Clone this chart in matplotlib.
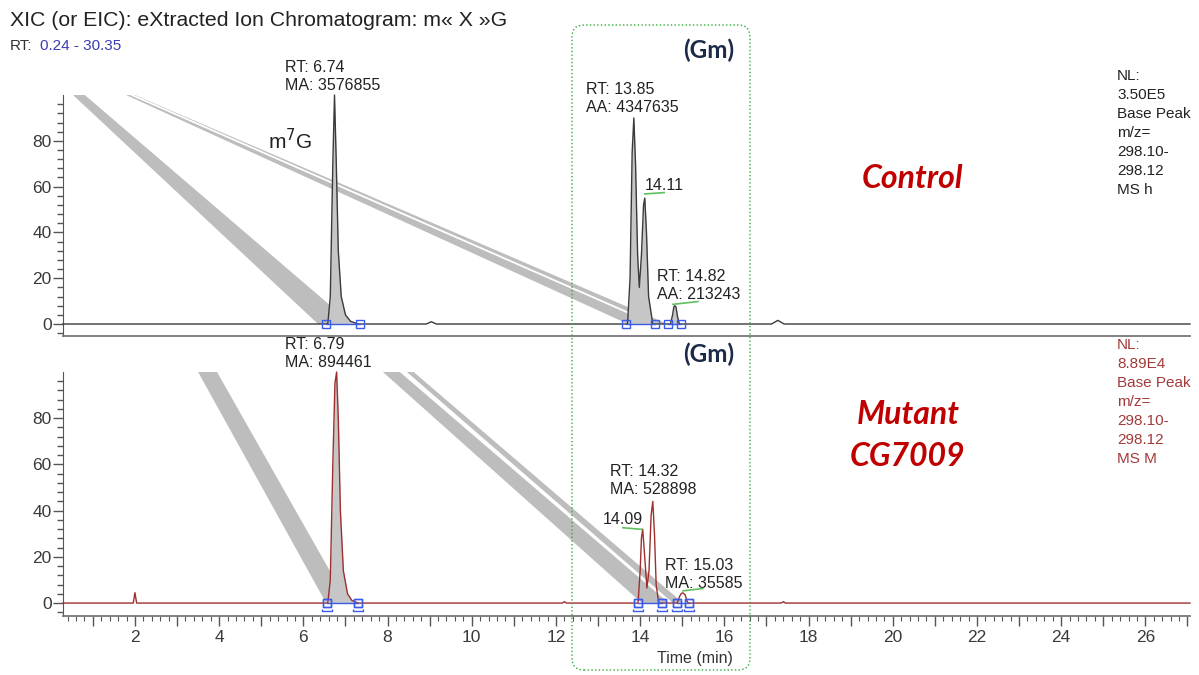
import numpy as np
import matplotlib.pyplot as plt
from matplotlib.patches import FancyBboxPatch, Polygon
from matplotlib.path import Path
from matplotlib.ticker import FixedLocator, MultipleLocator, FuncFormatter

plt.rcParams['font.family'] = ['Liberation Sans', 'DejaVu Sans']

# chromatogram traces (time in min, relative abundance %)
ctrl_time = [0.29, 6.58, 6.64, 6.70, 6.74, 6.78, 6.83, 6.90, 7.00, 7.12, 7.30,
             8.92, 9.04, 9.16, 13.70, 13.76, 13.81, 13.85, 13.89, 13.94, 13.98,
             14.03, 14.08, 14.11, 14.15, 14.20, 14.30, 14.72, 14.77, 14.80, 14.82,
             14.85, 14.89, 14.93, 17.12, 17.27, 17.42, 27.06]
ctrl_abund = [0, 0, 12, 70, 100, 72, 32, 12, 4, 1.2, 0,
              0, 1.0, 0, 0, 20, 75, 90, 70, 30, 16,
              30, 52, 55, 40, 12, 0, 0, 4, 7.5, 8,
              7.5, 3, 0, 0, 1.6, 0, 0]

mut_time = [0.29, 1.96, 2.00, 2.04, 6.58, 6.64, 6.70, 6.75, 6.79, 6.83, 6.88,
            6.95, 7.05, 7.15, 7.30, 12.15, 12.20, 12.25, 13.95, 14.00, 14.03,
            14.06, 14.10, 14.16, 14.21, 14.26, 14.30, 14.34, 14.38, 14.44, 14.88,
            14.94, 14.98, 15.02, 15.07, 15.11, 15.14, 17.35, 17.40, 17.45, 27.06]
mut_abund = [0, 0, 4.5, 0, 0, 10, 60, 95, 100, 80, 40,
             14, 4, 1.2, 0, 0, 0.6, 0, 0, 14, 28,
             32, 22, 6.5, 14, 38, 44, 30, 8, 0, 0,
             3, 4.2, 4.4, 3.5, 1, 0, 0, 0.6, 0, 0]

# integration boundaries (blue squares) and shaded peak ranges
ctrl_bounds = [(6.54, 7.35), (13.66, 14.35), (14.66, 14.97)]
mut_bounds = [(6.56, 7.30), (13.95, 14.52), (14.87, 15.16)]
ctrl_shade = [(6.58, 7.30), (13.70, 14.30), (14.72, 14.93)]
mut_shade = [(6.58, 7.30)]

ctrl_labels = ['RT: 6.74\nMA: 3576855', 'RT: 13.85\nAA: 4347635', '14.11',
               'RT: 14.82\nAA: 213243']
mut_labels = ['RT: 6.79\nMA: 894461', 'RT: 14.32\nMA: 528898', '14.09',
              'RT: 15.03\nMA: 35585']
ctrl_nl = ['NL:', '3.50E5', 'Base Peak', 'm/z=', '298.10-', '298.12', 'MS h']
mut_nl = ['NL:', '8.89E4', 'Base Peak', 'm/z=', '298.10-', '298.12', 'MS M']

# grey callout wedges crossing the panels (time, abundance)
ctrl_wedges = [[(0.53, 100), (0.81, 100), (6.90, 4), (6.62, 0), (6.35, 0)],
               [(1.79, 100), (2.00, 100), (14.65, 0), (13.71, 0)]]
ctrl_wedge_gap = [(1.93, 100), (14.33, 0)]
mut_wedges = [[(3.50, 100), (3.95, 100), (6.82, 7.8), (6.54, 0)],
              [(7.89, 100), (8.29, 100), (14.68, 0), (14.04, 0)],
              [(8.46, 100), (8.62, 100), (15.02, 0), (14.78, 0)]]

# label anchors (time, abundance) and apex marks
ctrl_label_pos = [(5.56, 101), (12.71, 91.5), (14.11, 57), (14.40, 9.6)]
mut_label_pos = [(5.56, 101), (13.28, 45.9), (13.12, 32.9), (14.59, 5.2)]
ctrl_apex = [((14.11, 14.57), (56.8, 57.4)), ((14.78, 15.37), (8.6, 9.8))]
mut_apex = [((13.59, 14.04), (32.6, 31.9)), ((15.02, 15.49), (5.3, 6.3))]

blue = '#3a5be8'
green = '#5fbf5f'

fig = plt.figure(figsize=(11.99, 6.75), dpi=100)
ax1 = fig.add_axes([0.0525, 0.5022, 0.94, 0.357])
ax2 = fig.add_axes([0.0525, 0.0874, 0.94, 0.3615])


def style(ax, ymin):
    ax.set_xlim(0.29, 27.06)
    ax.set_ylim(ymin, 100)
    ax.spines['top'].set_visible(False)
    ax.spines['right'].set_visible(False)
    ax.spines['left'].set_color('#555555')
    ax.spines['bottom'].set_color('#777777')
    ax.spines['bottom'].set_linewidth(1.3)
    ax.set_yticks([0, 20, 40, 60, 80])
    ax.set_yticks(np.arange(-4, 100, 4), minor=True)
    ax.tick_params(axis='y', which='major', length=7, width=1, color='#555555',
                   labelsize=12.5, labelcolor='#3a3a3a', pad=1)
    ax.tick_params(axis='y', which='minor', length=4, width=1, color='#555555')


def draw(ax, t, a, color, wedges, shade, bounds, labels, label_pos, apex, bracket):
    for w in wedges:
        ax.add_patch(Polygon(w, closed=True, fc='#bdbdbd', ec='none', zorder=1))
    t = np.array(t)
    a = np.array(a)
    for lo, hi in shade:
        m = (t >= lo) & (t <= hi)
        ax.fill_between(t[m], a[m], 0, color='#c6c6c6', lw=0, zorder=2)
    ax.plot(t, a, color=color, lw=1.0, zorder=3, clip_on=False)
    for lo, hi in bounds:
        ax.plot([lo, hi], [0, 0], color=blue, lw=1, zorder=4, clip_on=False)
        ax.plot([lo, hi], [0, 0], ls='none', marker='s', ms=6, mfc='none',
                mec=blue, mew=1, zorder=5, clip_on=False)
        if bracket:
            ax.plot([lo, hi], [0, 0], ls='none', marker=bracket, ms=12,
                    mfc='none', mec=blue, mew=1, zorder=5, clip_on=False)
    for txt, (x, y) in zip(labels, label_pos):
        ax.text(x, y, txt, fontsize=11.5, color='#222222', ha='left', va='bottom',
                linespacing=1.25, zorder=6)
    for xs, ys in apex:
        ax.plot(xs, ys, color=green, lw=1.2, zorder=6)


style(ax1, -5.24)
ax1.tick_params(axis='x', bottom=False, labelbottom=False)
draw(ax1, ctrl_time, ctrl_abund, '#3a3a3a', ctrl_wedges, ctrl_shade, ctrl_bounds,
     ctrl_labels, ctrl_label_pos, ctrl_apex, None)
ax1.plot(*zip(*ctrl_wedge_gap), color='white', lw=1.3, zorder=1.5)
ax1.text(5.15, 80, 'm$^7$G', fontsize=15, color='#222222', ha='left', va='center')

bracket = Path([(-1, -1), (-1, 1), (1, 1), (1, -1), (-1, -1),
                (-1.2, -1.4), (-1.2, -2.0), (1.2, -2.0), (1.2, -1.4)],
               [Path.MOVETO, Path.LINETO, Path.LINETO, Path.LINETO, Path.CLOSEPOLY,
                Path.MOVETO, Path.LINETO, Path.LINETO, Path.LINETO])
style(ax2, -5.6)
draw(ax2, mut_time, mut_abund, '#9e2f2f', mut_wedges, mut_shade, mut_bounds,
     mut_labels, mut_label_pos, mut_apex, bracket)

ax2.xaxis.set_major_locator(FixedLocator(np.arange(1, 28, 1)))
ax2.xaxis.set_minor_locator(MultipleLocator(0.2))
ax2.xaxis.set_major_formatter(FuncFormatter(lambda v, p: f'{int(v)}' if int(v) % 2 == 0 else ''))
ax2.tick_params(axis='x', which='major', length=7, width=1, color='#555555',
                labelsize=12.5, labelcolor='#3a3a3a', pad=3)
ax2.tick_params(axis='x', which='minor', length=3.5, width=0.8, color='#555555')
fig.text(695 / 1199, 1 - 658 / 675, 'Time (min)', fontsize=11.5, color='#333333',
         ha='center', va='center')

# header
fig.text(10 / 1199, 1 - 20 / 675, 'XIC (or EIC): eXtracted Ion Chromatogram: m« X »G',
         fontsize=15.3, color='#222222', ha='left', va='center')
fig.text(10 / 1199, 1 - 46 / 675, 'RT:', fontsize=11, color='#333333', ha='left', va='center')
fig.text(40 / 1199, 1 - 46 / 675, '0.24 - 30.35', fontsize=11, color='#3b3bb0',
         ha='left', va='center')

# normalisation blocks
fig.text(1117 / 1199, 1 - 69 / 675, '\n'.join(ctrl_nl), fontsize=11, color='#222222',
         ha='left', va='top', linespacing=1.45)
fig.text(1117 / 1199, 1 - 338 / 675, '\n'.join(mut_nl), fontsize=11, color='#a33a3a',
         ha='left', va='top', linespacing=1.45)

# sample names
name_font = dict(family=['Lato', 'DejaVu Sans'], weight='bold', style='italic',
                 color='#c00000', fontsize=23, ha='center', va='center')
fig.text(912 / 1199, 1 - 178 / 675, 'Control', **name_font)
fig.text(908 / 1199, 1 - 415 / 675, 'Mutant', **name_font)
fig.text(907 / 1199, 1 - 457 / 675, 'CG7009', **name_font)

# Gm highlight box
gm_font = dict(family=['Lato', 'DejaVu Sans'], weight='bold', color='#1c2b48',
               fontsize=17.5, ha='center', va='center')
fig.text(709 / 1199, 1 - 50 / 675, '(Gm)', **gm_font)
fig.text(709 / 1199, 1 - 354 / 675, '(Gm)', **gm_font)
box = FancyBboxPatch((5.72, 0.05), 1.78, 6.45, boxstyle='round,pad=0,rounding_size=0.12',
                     transform=fig.dpi_scale_trans, fill=False, ec='#33aa33', lw=1.0,
                     ls=':')
fig.patches.append(box)

fig.savefig('out.png', dpi=100)
